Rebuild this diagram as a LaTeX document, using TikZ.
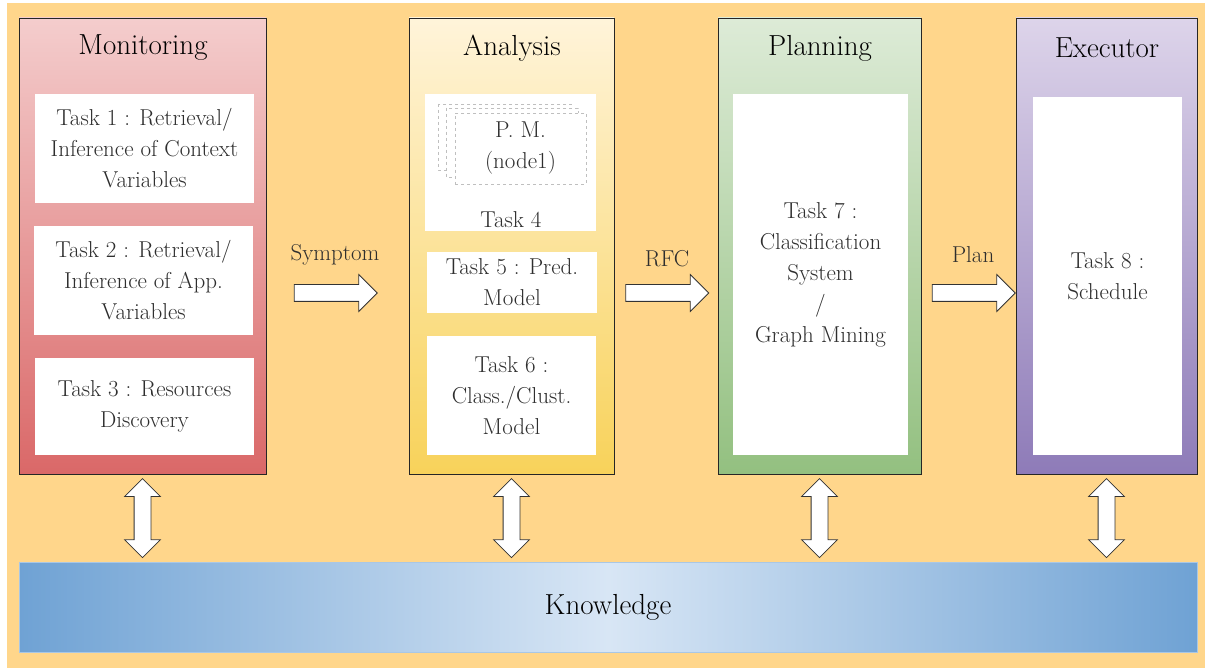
\documentclass[tikz,border=0pt]{standalone}
\usepackage{fontspec}
\usetikzlibrary{shapes.arrows,calc}
\definecolor{bg}{HTML}{FFD68B}
\definecolor{monT}{HTML}{F4CDCD}
\definecolor{monB}{HTML}{DA6868}
\definecolor{anaT}{HTML}{FFF4DA}
\definecolor{anaB}{HTML}{F8D25A}
\definecolor{plaT}{HTML}{DDEBD7}
\definecolor{plaB}{HTML}{93C080}
\definecolor{exeT}{HTML}{DDD4EA}
\definecolor{exeB}{HTML}{8E7BB8}
\definecolor{knE}{HTML}{6FA2D4}
\definecolor{knM}{HTML}{D8E6F5}
\definecolor{txt}{HTML}{2E2E2E}
\begin{document}
\begin{tikzpicture}[x=1pt,y=-1pt,
  phasebox/.style={draw=black!85,line width=0.9pt,minimum height=456,inner sep=0},
  whitebox/.style={fill=white,inner sep=0,align=center,text=txt,font=\fontsize{23}{31}\selectfont},
  ptitle/.style={font=\fontsize{29}{32}\selectfont,text=black},
  lbl/.style={font=\fontsize{23}{26}\selectfont,text=txt},
  harrow/.style={single arrow,draw=black!80,fill=white,line width=0.8pt,minimum height=83,minimum width=36,single arrow head extend=10,single arrow tip angle=90,inner sep=8pt},
  varrow/.style={double arrow,draw=black!80,fill=white,line width=0.8pt,minimum height=79,minimum width=35,double arrow head extend=9.5,double arrow tip angle=90,inner sep=8pt,shape border rotate=90},
  pmbox/.style={draw=black!25,dashed,fill=white,line width=0.8pt}
]
\useasboundingbox (0,0) rectangle (1205,668);
\fill[white] (0,0) rectangle (1205,668);
\fill[bg] (7,3) rectangle (1205,668);

% phase boxes
\node[phasebox,top color=monT,bottom color=monB,minimum width=247] (mon) at (142.5,246) {};
\node[phasebox,top color=anaT,bottom color=anaB,minimum width=205] (ana) at (511.5,246) {};
\node[phasebox,top color=plaT,bottom color=plaB,minimum width=203] (pla) at (819.5,246) {};
\node[phasebox,top color=exeT,bottom color=exeB,minimum width=181] (exe) at (1106.5,246) {};

% titles
\node[ptitle] (monT) at (143,48) {Monitoring};
\node[ptitle] (anaT) at (512,48) {Analysis};
\node[ptitle] (plaT) at (820,48) {Planning};
\node[ptitle] (exeT) at (1107,48) {Executor};

% monitoring tasks
\node[whitebox,minimum width=219,minimum height=109] (t1) at (144.5,148.5) {Task 1 : Retrieval/\\Inference of Context\\Variables};
\node[whitebox,minimum width=219,minimum height=109] (t2) at (143.5,280.5) {Task 2 : Retrieval/\\Inference of App.\\Variables};
\node[whitebox,minimum width=219,minimum height=97] (t3) at (144.5,406.5) {Task 3 : Resources\\Discovery};

% analysis tasks
\node[whitebox,minimum width=171,minimum height=137] (t4) at (510.5,162.5) {};
\draw[pmbox] (438,104) rectangle (571,170);
\draw[pmbox] (446,108) rectangle (578,177);
\node[pmbox,minimum width=131,minimum height=71,inner sep=0,align=center,text=txt,font=\fontsize{23}{31}\selectfont] (pm) at (520.5,148.5) {P. M.\\(node1)};
\node[lbl] (t4l) at (511,220) {Task 4};
\node[whitebox,minimum width=170,minimum height=61] (t5) at (512,282.5) {Task 5 : Pred.\\Model};
\node[whitebox,minimum width=169,minimum height=119] (t6) at (511.5,395.5) {Task 6 :\\Class./Clust.\\Model};

% planning / executor tasks
\node[whitebox,minimum width=175,minimum height=361] (t7) at (820.5,274.5) {Task 7 :\\Classification\\System\\/\\Graph Mining};
\node[whitebox,minimum width=149,minimum height=358] (t8) at (1107.5,276) {Task 8 :\\Schedule};

% knowledge
\node[draw=knE!60,left color=knE,right color=knE,middle color=knM,minimum width=1178,minimum height=90,inner sep=0,font=\fontsize{29}{32}\selectfont,text=black] (know) at (608,607) {Knowledge};

% horizontal arrows
\node[harrow] (a1) at (331.5,293) {};
\node[harrow] (a2) at (663,293) {};
\node[harrow] (a3) at (969.5,293) {};
\node[lbl] (l1) at (335,255) {Symptom};
\node[lbl] (l2) at (667,259) {RFC};
\node[lbl] (l3) at (973,255) {Plan};

% vertical arrows
\node[varrow] (v1) at ($(mon.south)!0.5!(know.north -| mon.south)$) {};
\node[varrow] (v2) at ($(ana.south)!0.5!(know.north -| ana.south)$) {};
\node[varrow] (v3) at ($(pla.south)!0.5!(know.north -| pla.south)$) {};
\node[varrow] (v4) at ($(exe.south)!0.5!(know.north -| exe.south)$) {};
\end{tikzpicture}
\end{document}
